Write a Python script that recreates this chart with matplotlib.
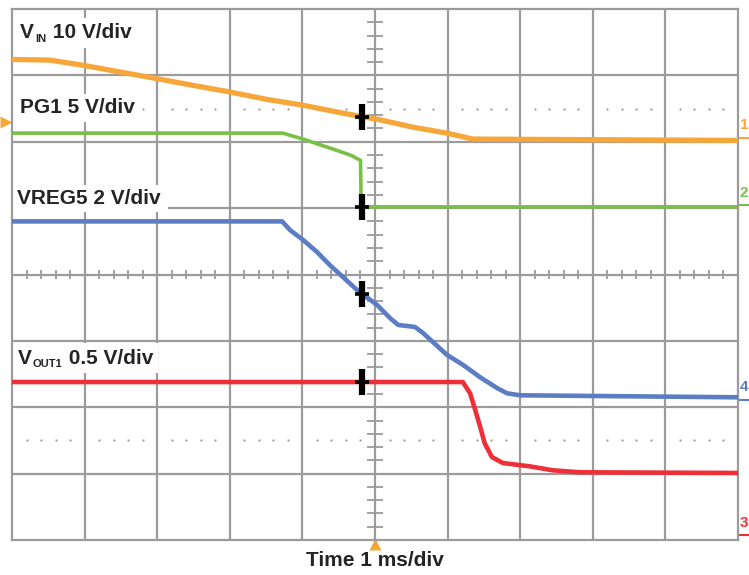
import numpy as np
import matplotlib
matplotlib.use('Agg')
import matplotlib.pyplot as plt
from matplotlib.patches import Rectangle

plt.rcParams['font.family'] = ['Liberation Sans', 'DejaVu Sans']

# scope traces in divisions (x: 0..10, y: 0..8)
vin_t = [0, 0.52, 0.99, 1.49, 1.90, 2.49, 3.00, 3.50, 4.01, 4.56, 5.07, 5.52, 5.99, 6.35, 10.0]
vin_v = [7.24, 7.23, 7.15, 7.05, 6.97, 6.85, 6.75, 6.64, 6.55, 6.43, 6.33, 6.22, 6.13, 6.04, 6.02]

pg1_t = [0, 3.73, 4.01, 4.42, 4.66, 4.80, 4.81, 10.0]
pg1_v = [6.13, 6.13, 6.04, 5.89, 5.80, 5.72, 5.02, 5.02]

vreg_t = [0, 3.72, 3.83, 4.01, 4.20, 4.38, 4.56, 4.75, 5.03, 5.21, 5.32, 5.55, 5.66,
          5.80, 5.99, 6.21, 6.45, 6.68, 6.82, 7.00, 10.0]
vreg_v = [4.80, 4.80, 4.67, 4.52, 4.34, 4.14, 3.96, 3.77, 3.54, 3.34, 3.24, 3.21, 3.12,
          2.98, 2.79, 2.64, 2.45, 2.29, 2.21, 2.18, 2.15]

vout_t = [0, 6.21, 6.31, 6.38, 6.45, 6.51, 6.61, 6.76, 7.13, 7.45, 7.82, 10.0]
vout_v = [2.38, 2.38, 2.21, 1.96, 1.70, 1.46, 1.25, 1.16, 1.11, 1.05, 1.02, 1.01]

# channel labels: (main, subscript, rest), left x, center y
ch_labels = [("V", "IN", " 10 V/div"), ("PG1 5 V/div", "", ""),
             ("VREG5 2 V/div", "", ""), ("V", "OUT1", " 0.5 V/div")]
ch_label_x = [0.11, 0.11, 0.07, 0.08]
ch_label_y = [7.64, 6.51, 5.15, 2.74]
# white boxes behind labels (x0, x1, y0, y1)
ch_boxes = [(0, 1.76, 7.41, 7.86), (0, 1.76, 6.30, 6.72),
            (0.01, 2.15, 4.94, 5.35), (0.01, 2.01, 2.51, 2.97)]

ch_num = ["1", "2", "4", "3"]
ch_num_y = [6.25, 5.23, 2.30, 0.26]

cursor_t = 4.82
xlabel = "Time 1 ms/div"

c_org = '#f7a63a'
c_grn = '#79c146'
c_blu = '#5b7dc3'
c_red = '#ee2f37'
c_grid = '#9b9b9b'
c_txt = '#262324'

fig = plt.figure(figsize=(7.49, 5.75), dpi=100)
ax = fig.add_axes([12 / 749, 35 / 575, 726 / 749, 531 / 575])
ax.set_xlim(0, 10)
ax.set_ylim(0, 8)
ax.set_xticks([])
ax.set_yticks([])
for s in ax.spines.values():
    s.set_color(c_grid)
    s.set_linewidth(1.6)
    s.set_zorder(2)

for i in range(1, 10):
    ax.axvline(i, color=c_grid, lw=1.6, zorder=1)
for j in range(1, 8):
    ax.axhline(j, color=c_grid, lw=1.6, zorder=1)

# minor ticks on the center axes
fine_x = [v for v in np.arange(0.2, 10, 0.2) if abs(v - round(v)) > 0.01]
fine_y = [v for v in np.arange(0.2, 8, 0.2) if abs(v - round(v)) > 0.01]
ax.vlines(fine_x, 4 - 0.075, 4 + 0.075, color=c_grid, lw=1.3, zorder=1)
ax.hlines(fine_y, 5 - 0.105, 5 + 0.105, color=c_grid, lw=1.3, zorder=1)

# dotted marker lines
for yd in [6.5, 1.5]:
    ax.plot(fine_x, [yd] * len(fine_x), ls='none', marker='o', ms=1.6,
            color=c_grid, mec='none', zorder=1)

for b in ch_boxes:
    ax.add_patch(Rectangle((b[0], b[2]), b[1] - b[0], b[3] - b[2],
                           facecolor='white', edgecolor='none', zorder=1.5))

ax.plot(vin_t, vin_v, color=c_org, lw=3.8, zorder=3)
ax.plot(pg1_t, pg1_v, color=c_grn, lw=2.6, zorder=3)
ax.plot(vreg_t, vreg_v, color=c_blu, lw=3.3, zorder=3)
ax.plot(vout_t, vout_v, color=c_red, lw=3.3, zorder=3)

# cursor markers where each trace crosses the cursor
for tt, vv in [(vin_t, vin_v), (pg1_t, pg1_v), (vreg_t, vreg_v), (vout_t, vout_v)]:
    cy = np.interp(cursor_t, tt, vv)
    ax.plot([cursor_t], [cy], marker='|', ms=19, mew=4.5, color='black', zorder=4)
    ax.plot([cursor_t], [cy], marker='_', ms=10, mew=2.6, color='black', zorder=4)

# labels
fig.canvas.draw()
rend = fig.canvas.get_renderer()
for (main, sub, rest), lx, ly in zip(ch_labels, ch_label_x, ch_label_y):
    t = ax.annotate(main, xy=(lx, ly), xycoords='data', fontsize=15, fontweight='bold',
                    color=c_txt, ha='left', va='center', zorder=5)
    if sub:
        w = t.get_window_extent(rend).width
        t2 = ax.annotate(sub, xy=(lx, ly), xycoords='data', xytext=(w + 1, -6),
                         textcoords='offset pixels', fontsize=8, fontweight='bold',
                         color=c_txt, ha='left', va='center', zorder=5)
        w2 = t2.get_window_extent(rend).width
        ax.annotate(rest, xy=(lx, ly), xycoords='data', xytext=(w + w2 + 2, 0),
                    textcoords='offset pixels', fontsize=15, fontweight='bold',
                    color=c_txt, ha='left', va='center', zorder=5)

# channel reference markers on the right edge
ch_cols = [c_org, c_grn, c_blu, c_red]
for n, ny, col in zip(ch_num, ch_num_y, ch_cols):
    ax.text(10.025, ny, n, fontsize=11, fontweight='bold', color=col,
            ha='left', va='center', clip_on=False)
    ax.plot([10.01, 10.2], [ny - 0.19, ny - 0.19], color=col, lw=1.5, clip_on=False)

ax.plot([-0.08], [6.30], marker='>', ms=8, color=c_org, mec='none', clip_on=False)
ax.plot([5], [-0.06], marker='^', ms=8, color=c_org, mec='none', clip_on=False)

fig.text(375 / 749, 1 - 560 / 575, xlabel, fontsize=15, fontweight='bold',
         color=c_txt, ha='center', va='center')

fig.savefig('out.png', dpi=100)
